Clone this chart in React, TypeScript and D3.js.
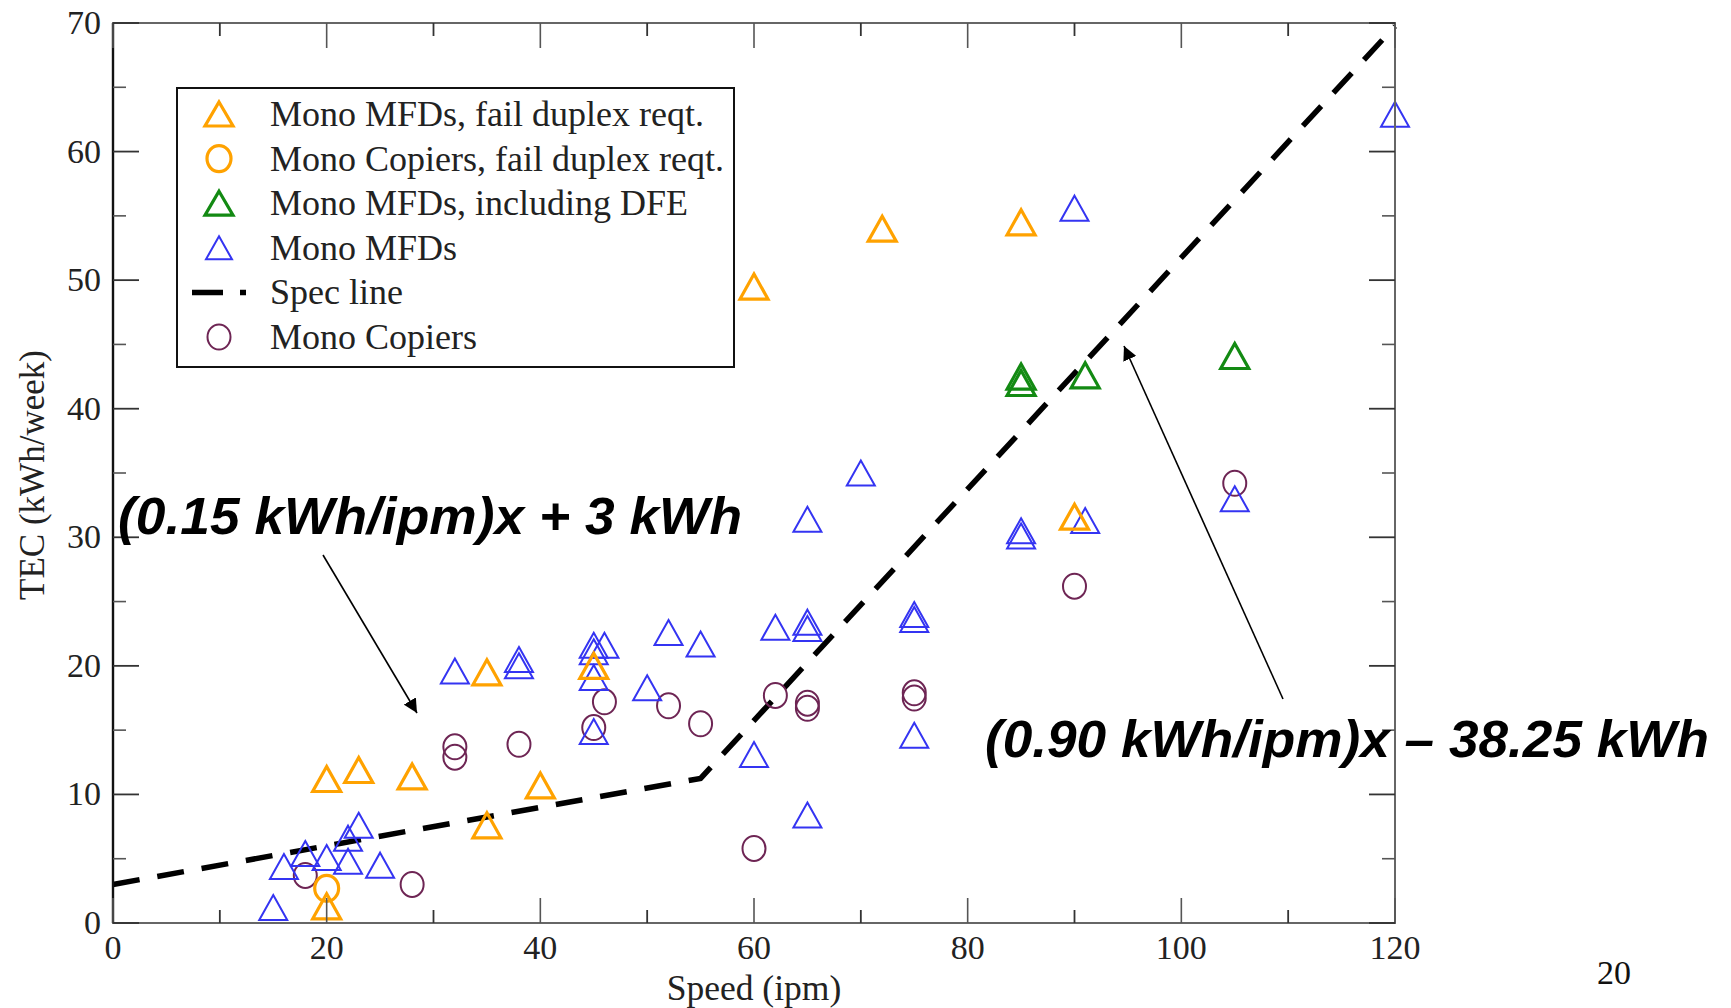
import React from "react";
import * as d3 from "d3";

const xTicksMajor = [0, 20, 40, 60, 80, 100, 120];
const xTicksMinor = [10, 30, 50, 70, 90, 110];
const yTicksMajor = [0, 10, 20, 30, 40, 50, 60, 70];
const yTicksMinor = [5, 15, 25, 35, 45, 55, 65];

const monoMfdFailX = [20, 20, 23, 28, 35, 35, 40, 45, 60, 72, 85, 90];
const monoMfdFailY = [1.3, 11.2, 11.9, 11.4, 7.6, 19.5, 10.7, 20.0, 49.5, 54.0, 54.5, 31.6];

const monoCopierFailX = [20];
const monoCopierFailY = [2.7];

const monoMfdDfeX = [85, 85, 91, 105];
const monoMfdDfeY = [42.0, 42.5, 42.6, 44.1];

const monoMfdX = [15, 16, 18, 20, 22, 22, 23, 25, 32, 38, 38, 45, 45, 46, 45, 45, 50, 52, 55, 60, 62, 65, 65, 65, 65, 70, 75, 75, 75, 85, 85, 90, 91, 105, 120];
const monoMfdY = [1.2, 4.4, 5.4, 5.1, 4.8, 6.6, 7.6, 4.5, 19.6, 20.0, 20.5, 21.1, 21.6, 21.6, 19.1, 14.9, 18.3, 22.6, 21.7, 13.1, 23.0, 23.4, 22.9, 31.4, 8.4, 35.0, 24.0, 23.6, 14.6, 30.5, 30.1, 55.6, 31.3, 33.0, 62.9];

const monoCopierX = [18, 28, 32, 32, 38, 45, 46, 52, 55, 60, 62, 65, 65, 75, 75, 90, 105];
const monoCopierY = [3.7, 3.0, 13.7, 12.9, 13.9, 15.2, 17.2, 16.9, 15.5, 5.8, 17.7, 17.1, 16.7, 17.9, 17.5, 26.2, 34.2];

const specX = [0, 55, 120];
const specY = [3, 11.25, 69.75];

const legendLabels = [
  "Mono MFDs, fail duplex reqt.",
  "Mono Copiers, fail duplex reqt.",
  "Mono MFDs, including DFE",
  "Mono MFDs",
  "Spec line",
  "Mono Copiers",
];

const ORANGE = "#FFA200";
const GREEN = "#138a13";
const BLUE = "#3434F2";
const PURPLE = "#6E2554";

const W = 1731;
const H = 1008;
const left = 113, right = 1395, top = 23, bottom = 923;

const x = d3.scaleLinear().domain([0, 120]).range([left, right]);
const y = d3.scaleLinear().domain([0, 70]).range([bottom, top]);

const serif = "'Liberation Serif', 'Times New Roman', serif";
const sans = "'Liberation Sans', Arial, sans-serif";

function tri(cx: number, cy: number, hw = 14, h = 25) {
  const p = d3.path();
  p.moveTo(cx, cy - h / 2);
  p.lineTo(cx + hw, cy + h / 2);
  p.lineTo(cx - hw, cy + h / 2);
  p.closePath();
  return p.toString();
}

function Triangles({ xs, ys, color, sw }: { xs: number[]; ys: number[]; color: string; sw: number }) {
  return (
    <g>
      {xs.map((v, i) => (
        <path key={i} d={tri(x(v), y(ys[i]))} fill="none" stroke={color} strokeWidth={sw} strokeLinejoin="miter" />
      ))}
    </g>
  );
}

function Circles({ xs, ys, color, sw, r }: { xs: number[]; ys: number[]; color: string; sw: number; r: number }) {
  return (
    <g>
      {xs.map((v, i) => (
        <ellipse key={i} cx={x(v)} cy={y(ys[i])} rx={r * 0.92} ry={r} fill="none" stroke={color} strokeWidth={sw} />
      ))}
    </g>
  );
}

export default function App() {
  const line = d3
    .line<number>()
    .x((_, i) => x(specX[i]))
    .y((d) => y(d));

  const legX = 177, legY = 88, legW = 557, legH = 279;
  const rowY = (i: number) => 114 + i * 44.6;
  const mx = 219;

  return (
    <svg width={W} height={H} style={{ position: "absolute", left: 0, top: 0, background: "#fff" }}>
      <rect x={0} y={0} width={W} height={H} fill="#fff" />

      {/* spec line */}
      <path d={line(specY) || ""} fill="none" stroke="#000" strokeWidth={5.5} strokeDasharray="27,18" />

      {/* data */}
      <Circles xs={monoCopierX} ys={monoCopierY} color={PURPLE} sw={2} r={12.5} />
      <Triangles xs={monoMfdX} ys={monoMfdY} color={BLUE} sw={2} />
      <Triangles xs={monoMfdDfeX} ys={monoMfdDfeY} color={GREEN} sw={3.2} />
      <Circles xs={monoCopierFailX} ys={monoCopierFailY} color={ORANGE} sw={3.2} r={13} />
      <Triangles xs={monoMfdFailX} ys={monoMfdFailY} color={ORANGE} sw={3.2} />

      {/* frame */}
      <rect x={left} y={top} width={right - left} height={bottom - top} fill="none" stroke="#666" strokeWidth={2} />
      <line x1={left} x2={left} y1={top} y2={bottom} stroke="#111" strokeWidth={2.4} />

      {/* ticks */}
      {xTicksMajor.map((t) => (
        <g key={"xm" + t}>
          <line x1={x(t)} x2={x(t)} y1={bottom} y2={bottom - 25} stroke="#555" strokeWidth={1.6} />
          <line x1={x(t)} x2={x(t)} y1={top} y2={top + 25} stroke="#555" strokeWidth={1.6} />
          <text x={x(t)} y={bottom + 36} textAnchor="middle" fontFamily={serif} fontSize={34} fill="#222">
            {t}
          </text>
        </g>
      ))}
      {xTicksMinor.map((t) => (
        <g key={"xn" + t}>
          <line x1={x(t)} x2={x(t)} y1={bottom} y2={bottom - 13} stroke="#333" strokeWidth={1.8} />
          <line x1={x(t)} x2={x(t)} y1={top} y2={top + 13} stroke="#333" strokeWidth={1.8} />
        </g>
      ))}
      {yTicksMajor.map((t) => (
        <g key={"ym" + t}>
          <line x1={left} x2={left + 26} y1={y(t)} y2={y(t)} stroke="#333" strokeWidth={1.8} />
          <line x1={right} x2={right - 26} y1={y(t)} y2={y(t)} stroke="#333" strokeWidth={1.8} />
          <text x={left - 12} y={y(t) + 11} textAnchor="end" fontFamily={serif} fontSize={34} fill="#222">
            {t}
          </text>
        </g>
      ))}
      {yTicksMinor.map((t) => (
        <g key={"yn" + t}>
          <line x1={left} x2={left + 13} y1={y(t)} y2={y(t)} stroke="#555" strokeWidth={1.6} />
          <line x1={right} x2={right - 13} y1={y(t)} y2={y(t)} stroke="#555" strokeWidth={1.6} />
        </g>
      ))}

      {/* axis titles */}
      <text x={x(60)} y={1000} textAnchor="middle" fontFamily={serif} fontSize={35.5} fill="#222">
        Speed (ipm)
      </text>
      <text
        transform={`translate(44, 475) rotate(-90)`}
        textAnchor="middle"
        fontFamily={serif}
        fontSize={35}
        fill="#222"
      >
        TEC (kWh/week)
      </text>

      {/* legend */}
      <rect x={legX} y={legY} width={legW} height={legH} fill="#fff" stroke="#111" strokeWidth={2} />
      <path d={tri(mx, rowY(0), 14, 24)} fill="none" stroke={ORANGE} strokeWidth={3.2} />
      <ellipse cx={mx} cy={rowY(1)} rx={12} ry={13} fill="none" stroke={ORANGE} strokeWidth={3.2} />
      <path d={tri(mx, rowY(2), 14, 24)} fill="none" stroke={GREEN} strokeWidth={3.2} />
      <path d={tri(mx, rowY(3), 13, 23)} fill="none" stroke={BLUE} strokeWidth={2} />
      <line x1={192} x2={246} y1={rowY(4)} y2={rowY(4)} stroke="#000" strokeWidth={5.5} strokeDasharray="31,17" />
      <ellipse cx={mx} cy={rowY(5)} rx={11.5} ry={12.5} fill="none" stroke={PURPLE} strokeWidth={2} />
      {legendLabels.map((l, i) => (
        <text key={l} x={270} y={rowY(i) + 12} fontFamily={serif} fontSize={36} fill="#222">
          {l}
        </text>
      ))}

      {/* annotations */}
      <defs>
        <marker id="ah" viewBox="0 0 10 10" refX={10} refY={5} markerWidth={14} markerHeight={14} markerUnits="userSpaceOnUse" orient="auto">
          <path d="M0,0 L10,5 L0,10 z" fill="#000" />
        </marker>
      </defs>
      <line x1={323} y1={555} x2={417} y2={713} stroke="#000" strokeWidth={1.6} markerEnd="url(#ah)" />
      <line x1={1283} y1={699} x2={1124} y2={346} stroke="#000" strokeWidth={1.6} markerEnd="url(#ah)" />

      <text x={118} y={534} fontFamily={sans} fontWeight="bold" fontStyle="italic" fontSize={52} textLength={624} lengthAdjust="spacingAndGlyphs" fill="#000">
        (0.15 kWh/ipm)x + 3 kWh
      </text>
      <text x={985} y={757} fontFamily={sans} fontWeight="bold" fontStyle="italic" fontSize={52} textLength={724} lengthAdjust="spacingAndGlyphs" fill="#000">
        (0.90 kWh/ipm)x – 38.25 kWh
      </text>

      <text x={1597} y={984} fontFamily={serif} fontSize={34} fill="#111">
        20
      </text>
    </svg>
  );
}
